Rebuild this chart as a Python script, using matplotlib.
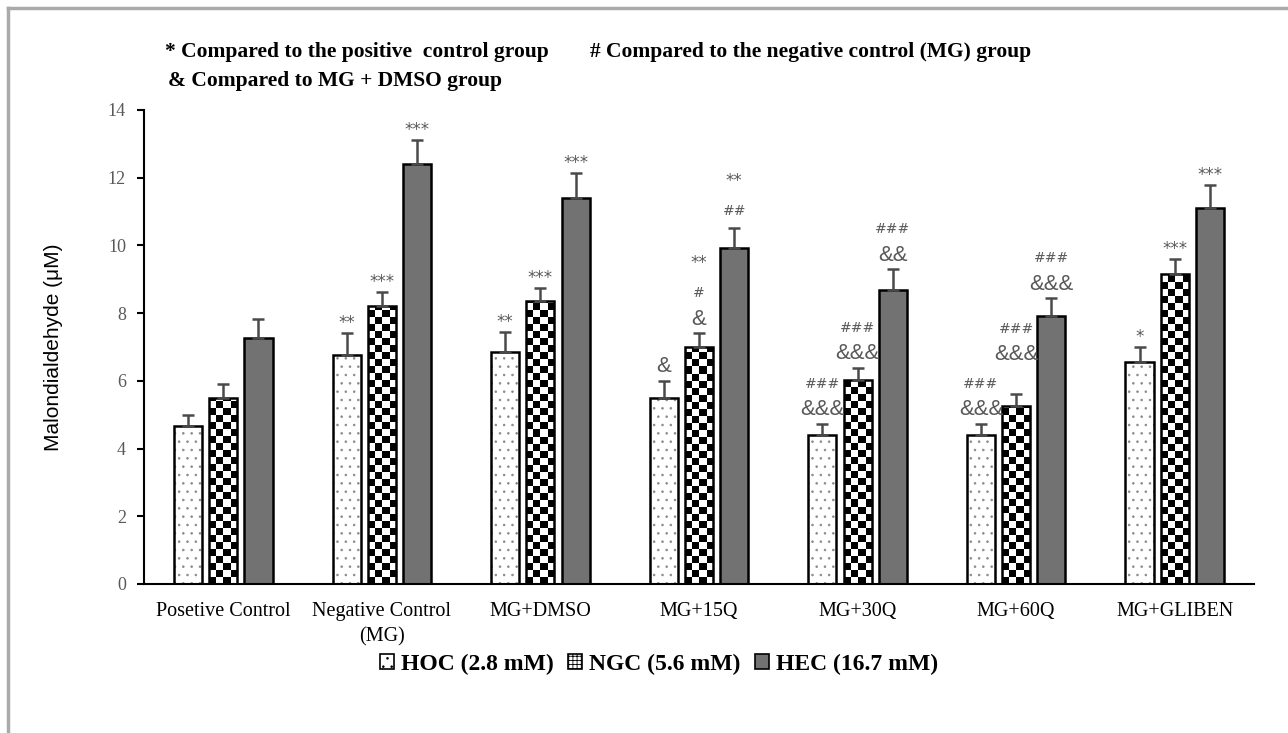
import numpy as np
import matplotlib
matplotlib.use("Agg")
import matplotlib.pyplot as plt
from matplotlib.patches import Patch
from matplotlib.lines import Line2D

# ---------------- data ----------------
categories = ["Posetive Control", "Negative Control\n(MG)", "MG+DMSO", "MG+15Q",
              "MG+30Q", "MG+60Q", "MG+GLIBEN"]
series_names = ["HOC (2.8 mM)", "NGC (5.6 mM)", "HEC (16.7 mM)"]
hoc = [4.68, 6.76, 6.85, 5.50, 4.41, 4.41, 6.56]
hoc_err = [0.32, 0.65, 0.59, 0.50, 0.33, 0.33, 0.44]
ngc = [5.50, 8.20, 8.35, 7.00, 6.03, 5.26, 9.15]
ngc_err = [0.40, 0.42, 0.39, 0.41, 0.35, 0.36, 0.44]
hec = [7.26, 12.41, 11.41, 9.91, 8.68, 7.91, 11.12]
hec_err = [0.56, 0.70, 0.74, 0.60, 0.62, 0.53, 0.67]
hoc_marks = ["", "**", "**", "&", "###\n&&&", "###\n&&&", "*"]
ngc_marks = ["", "***", "***", "**\n#\n&", "###\n&&&", "###\n&&&", "***"]
hec_marks = ["", "***", "***", "**\n##", "###\n&&", "###\n&&&", "***"]
yticks = [0, 2, 4, 6, 8, 10, 12, 14]
header1a = "* Compared to the positive  control group"
header1b = "# Compared to the negative control (MG) group"
header2 = "& Compared to MG + DMSO group"
ylabel = "Malondialdehyde (\u03bcM)"

# ---------------- figure ----------------
plt.rcParams['hatch.linewidth'] = 0.6
W, H = 1288, 733
fig = plt.figure(figsize=(W / 100, H / 100), dpi=100)
ax = fig.add_axes([144 / W, 1 - 584 / H, (1254 - 144) / W, (584 - 110) / H])

x = np.arange(len(categories))
bw = 0.177
step = 0.222
offs = [-step, 0, step]
ax.set_xlim(-0.5, len(categories) - 0.5)
ax.set_ylim(0, 14)

serif = ["Liberation Serif", "DejaVu Serif"]
gray_txt = "#595959"
err_col = "#4a4a4a"
hec_col = "#727272"

# HOC bars: dotted
ax.bar(x + offs[0], hoc, bw, color="white", edgecolor="#8a8a8a", hatch="..",
       linewidth=0, zorder=2)
ax.bar(x + offs[0], hoc, bw, fill=False, edgecolor="black", linewidth=1.8, zorder=4)

# NGC bars: checkerboard
ngc_bars = ax.bar(x + offs[1], ngc, bw, color="white", edgecolor="none",
                  linewidth=0, zorder=2)
ax.bar(x + offs[1], ngc, bw, fill=False, edgecolor="black", linewidth=1.8, zorder=4)

# HEC bars: solid gray
ax.bar(x + offs[2], hec, bw, color=hec_col, edgecolor="black", linewidth=1.8, zorder=4)

for xs, vals, errs in [(x + offs[0], hoc, hoc_err), (x + offs[1], ngc, ngc_err),
                       (x + offs[2], hec, hec_err)]:
    ax.errorbar(xs, vals, yerr=[np.zeros(len(vals)), errs], fmt="none",
                ecolor=err_col, elinewidth=1.8, capsize=4.5, capthick=1.8, zorder=5)

# checker pattern inside NGC bars
nx = 4
for rect in ngc_bars:
    x0, w, h = rect.get_x(), rect.get_width(), rect.get_height()
    px0, py0 = ax.transData.transform((x0, 0))
    px1, py1 = ax.transData.transform((x0 + w, h))
    cell = (px1 - px0) / nx
    ny = int(np.ceil((py1 - py0) / cell))
    img = np.add.outer(np.arange(ny), np.arange(nx)) % 2
    top = ax.transData.inverted().transform((px0, py0 + ny * cell))[1]
    im = ax.imshow(img, cmap="gray", vmin=0, vmax=1, extent=(x0, x0 + w, 0, top),
                   origin="lower", aspect="auto", interpolation="nearest", zorder=3)
    im.set_clip_path(rect)
ax.set_xlim(-0.5, len(categories) - 0.5)
ax.set_ylim(0, 14)

# significance marks
def mark_style(line):
    if "&" in line:
        return dict(fontsize=16, family=["Liberation Sans", "DejaVu Sans"]), 14, 26
    if "#" in line:
        return dict(fontsize=10, family=["DejaVu Sans"]), 17, 30
    return dict(fontsize=12, family=["DejaVu Sans"]), 10, 30

prev_top = {}   # group index -> (top line center px, was wide)
for xs, vals, errs, marks in [(x + offs[0], hoc, hoc_err, hoc_marks),
                              (x + offs[1], ngc, ngc_err, ngc_marks),
                              (x + offs[2], hec, hec_err, hec_marks)]:
    for gi, (xi, v, e, m) in enumerate(zip(xs, vals, errs, marks)):
        if not m:
            continue
        base_px = ax.transData.transform((xi, v + e))[1]
        lines = m.split("\n")[::-1]
        wide = any(len(l) >= 3 and l[0] in "&#" for l in lines)
        yy = None
        prev_gap = 0
        for i, ln in enumerate(lines):
            st, first, gap = mark_style(ln)
            if i == 0:
                yy = first
                if gi in prev_top and prev_top[gi][1] and wide:
                    yy = max(yy, prev_top[gi][0] + 29 - base_px)
            else:
                yy += prev_gap if "*" not in ln else 30
            prev_gap = gap
            ax.annotate(ln, xy=(xi, v + e), xytext=(0, yy * 0.72), textcoords="offset points",
                        ha="center", va="center", color=gray_txt, zorder=6, **st)
        prev_top[gi] = (base_px + yy, wide)

# axes styling
for s in ["top", "right"]:
    ax.spines[s].set_visible(False)
ax.spines["left"].set_linewidth(1.5)
ax.spines["bottom"].set_linewidth(1.5)
ax.spines["bottom"].set_zorder(7)
ax.set_yticks(yticks)
ax.set_yticklabels([str(t) for t in yticks], family=serif, fontsize=13, color=gray_txt)
ax.tick_params(axis="y", direction="out", length=5, width=1.5, pad=8)
ax.set_xticks(x)
ax.set_xticklabels(categories, family=serif, fontsize=14.5, color="black", linespacing=1.45)
ax.tick_params(axis="x", length=0, pad=13)
ax.set_ylabel(ylabel, family=["Liberation Sans", "DejaVu Sans"], fontsize=15, labelpad=32)

# header texts
hfont = dict(family=serif, fontsize=15.5, fontweight="bold", color="black")
fig.text(165 / W, 1 - 52 / H, header1a, va="center", ha="left", **hfont)
fig.text(590 / W, 1 - 52 / H, header1b, va="center", ha="left", **hfont)
fig.text(168 / W, 1 - 81 / H, header2, va="center", ha="left", **hfont)

# legend
handles = [Patch(facecolor="white", edgecolor="black", hatch="..", linewidth=1.2),
           Patch(facecolor="white", edgecolor="black", hatch="++++", linewidth=1.2),
           Patch(facecolor=hec_col, edgecolor="black", linewidth=1.2)]
fig.legend(handles, series_names, loc="center", bbox_to_anchor=(659 / W, 1 - 664 / H),
           ncol=3, frameon=False, prop=dict(family=serif, size=17, weight="bold"),
           handlelength=0.6, handleheight=0.6, handletextpad=0.3, columnspacing=0.6)

# border
fig.add_artist(Line2D([8 / W, 8 / W], [0, 1 - 8 / H], transform=fig.transFigure,
                      color="#aaaaaa", linewidth=2.5))
fig.add_artist(Line2D([8 / W, 1], [1 - 8 / H, 1 - 8 / H], transform=fig.transFigure,
                      color="#aaaaaa", linewidth=2.5))

fig.savefig("out.png", dpi=100, facecolor="white")
